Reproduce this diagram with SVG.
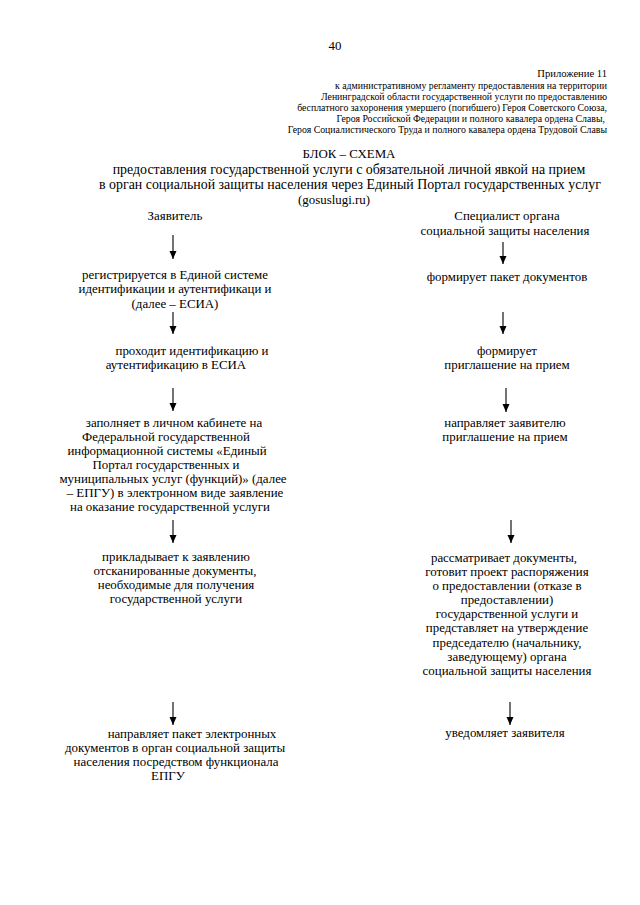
<svg xmlns="http://www.w3.org/2000/svg" width="640" height="905" viewBox="0 0 640 905">
<style>
text { font-family: "Liberation Serif", "Times New Roman", serif; fill: #000; }
.b { font-size: 12.9px; text-anchor: middle; }
.t { font-size: 13.9px; }
.h { font-size: 9.8px; text-anchor: end; }
.conn line { stroke: #000; stroke-width: 1.1; marker-end: url(#ah); }
</style>
<defs>
<marker id="ah" markerUnits="userSpaceOnUse" markerWidth="8" markerHeight="9" refX="8" refY="3.5" orient="auto">
<path d="M0,0 L8,3.5 L0,7 z" fill="#000"/>
</marker>
</defs>
<rect width="640" height="905" fill="#fff"/>
<g id="page-number"><text class="b" x="335" y="50">40</text></g>
<g id="header" xml:space="preserve">
<text class="h" x="607" y="77" style="font-size:10.6px">Приложение  11</text>
<text class="h" x="607" y="89">к  административному регламенту предоставления на территории</text>
<text class="h" x="607" y="100">Ленинградской области  государственной услуги по предоставлению</text>
<text class="h" x="607" y="111">бесплатного захоронения умершего (погибшего) Героя Советского Союза,</text>
<text class="h" x="605" y="122">Героя Российской Федерации и полного кавалера ордена Славы,</text>
<text class="h" x="607" y="133">Героя Социалистического Труда и полного кавалера ордена Трудовой Славы</text>
</g>
<g id="title" xml:space="preserve">
<text class="b" x="349" y="158">БЛОК – СХЕМА</text>
<text class="b t" x="349" y="174">предоставления государственной услуги  с обязательной личной явкой на прием</text>
<text class="b t" x="350" y="189">в орган социальной защиты населения через Единый Портал государственных услуг</text>
<text class="b" x="334" y="204">(gosuslugi.ru)</text>
</g>
<g id="col-applicant"><text class="b" x="175" y="220">Заявитель</text></g>
<g id="col-specialist">
<text class="b" x="507" y="220">Специалист органа</text>
<text class="b" x="505" y="235">социальной защиты населения</text>
</g>
<g class="conn" id="connectors">
<line x1="173" y1="235" x2="173" y2="259"/>
<line x1="173" y1="312" x2="173" y2="334"/>
<line x1="173" y1="388" x2="173" y2="411"/>
<line x1="173" y1="520" x2="173" y2="543"/>
<line x1="173" y1="702" x2="173" y2="725"/>
<line x1="503" y1="242" x2="503" y2="264"/>
<line x1="503" y1="312" x2="503" y2="334"/>
<line x1="506" y1="388" x2="506" y2="412"/>
<line x1="511" y1="520" x2="511" y2="543"/>
<line x1="510" y1="702" x2="510" y2="725"/>
</g>
<g id="l1">
<text class="b" x="175" y="279">регистрируется в Единой системе</text>
<text class="b" x="175" y="293">идентификации и аутентификаци и</text>
<text class="b" x="175" y="308">(далее – ЕСИА)</text>
</g>
<g id="l2">
<text class="b" x="192" y="355">проходит идентификацию и</text>
<text class="b" x="176" y="369">аутентификацию в ЕСИА</text>
</g>
<g id="l3" xml:space="preserve">
<text class="b" x="174" y="427">заполняет в личном кабинете на</text>
<text class="b" x="166" y="441">Федеральной государственной</text>
<text class="b" x="167" y="455">информационной системы «Единый</text>
<text class="b" x="166" y="469">Портал государственных и</text>
<text class="b" x="173" y="483">муниципальных услуг (функций)» (далее</text>
<text class="b" x="175" y="497">– ЕПГУ)  в электронном виде заявление</text>
<text class="b" x="170" y="511">на оказание государственной услуги</text>
</g>
<g id="l4" xml:space="preserve">
<text class="b" x="176" y="561">прикладывает  к заявлению</text>
<text class="b" x="175" y="575">отсканированные документы,</text>
<text class="b" x="176" y="589">необходимые для получения</text>
<text class="b" x="176" y="603">государственной услуги</text>
</g>
<g id="l5">
<text class="b" x="192" y="738">направляет пакет электронных</text>
<text class="b" x="175" y="752">документов в орган социальной защиты</text>
<text class="b" x="176" y="766">населения посредством функционала</text>
<text class="b" x="168" y="780">ЕПГУ</text>
</g>
<g id="r1"><text class="b" x="507" y="281">формирует пакет документов</text></g>
<g id="r2">
<text class="b" x="507" y="355">формирует</text>
<text class="b" x="507" y="369">приглашение на прием</text>
</g>
<g id="r3">
<text class="b" x="505" y="427">направляет заявителю</text>
<text class="b" x="505" y="441">приглашение на прием</text>
</g>
<g id="r4">
<text class="b" x="504" y="562">рассматривает документы,</text>
<text class="b" x="507" y="576">готовит проект распоряжения</text>
<text class="b" x="507" y="590">о предоставлении (отказе в</text>
<text class="b" x="507" y="604">предоставлении)</text>
<text class="b" x="507" y="618">государственной услуги и</text>
<text class="b" x="507" y="632">представляет на утверждение</text>
<text class="b" x="507" y="647">председателю (начальнику,</text>
<text class="b" x="507" y="661">заведующему) органа</text>
<text class="b" x="507" y="675">социальной защиты населения</text>
</g>
<g id="r5"><text class="b" x="505" y="737">уведомляет заявителя</text></g>
</svg>
